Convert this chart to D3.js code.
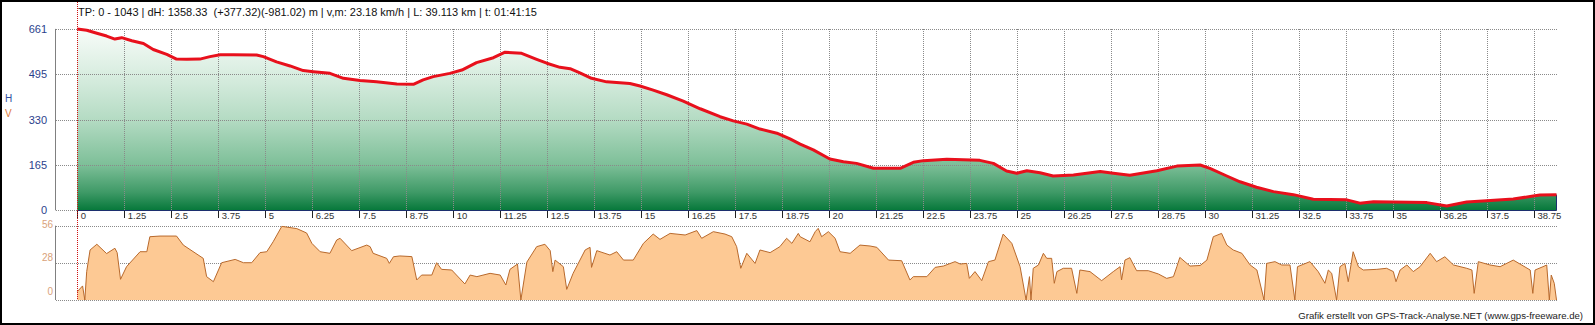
<!DOCTYPE html>
<html><head><meta charset="utf-8">
<script src="https://cdn.jsdelivr.net/npm/d3@7/dist/d3.min.js"></script>
<style>html,body{margin:0;padding:0;background:#fff;}svg{display:block;font-family:"Liberation Sans",Arial,sans-serif;}</style>
</head><body>
<svg id="c" width="1595" height="325"></svg>
<script>
const titleText = "TP: 0 - 1043 | dH: 1358.33\u00a0\u00a0(+377.32)(-981.02) m | v,m: 23.18 km/h | L: 39.113 km | t: 01:41:15";
const creditText = "Grafik erstellt von GPS-Track-Analyse.NET (www.gps-freeware.de)";
const xTicks = [0,1.25,2.5,3.75,5,6.25,7.5,8.75,10,11.25,12.5,13.75,15,16.25,17.5,18.75,20,21.25,22.5,23.75,25,26.25,27.5,28.75,30,31.25,32.5,33.75,35,36.25,37.5,38.75];
const xTickLabels = xTicks.map(String);
const elevTicks = [0,165,330,495,661];
const speedTicks = [0,28,56];
const xMax = 39.35;

const elevKm = [0,0.25,0.52,0.78,1.0,1.18,1.45,1.76,2.02,2.38,2.64,2.91,3.26,3.53,3.80,4.15,4.77,4.95,5.30,5.66,6.01,6.28,6.72,7.08,7.52,7.96,8.50,8.94,9.2,9.47,9.91,10.23,10.62,11.07,11.38,11.82,12.22,12.49,12.84,13.11,13.37,13.68,14.08,14.70,14.97,15.32,15.68,16.12,16.57,17.10,17.45,17.81,18.16,18.61,18.96,19.23,19.58,20.02,20.38,20.73,21.18,21.89,22.24,22.51,23.13,24.01,24.37,24.72,24.99,25.26,25.61,25.96,26.50,27.21,27.56,28.00,28.72,29.25,29.87,30.13,30.58,30.93,31.37,31.82,32.35,32.88,33.77,34.12,34.48,35.90,36.43,36.96,37.49,38.20,38.73,38.91,39.35];
const elevM = [661,656,645,635,624,629,618,608,586,568,551,550,551,560,567,567,566,560,541,526,509,505,499,481,473,468,460,459,475,487,499,511,538,556,576,572,550,536,521,516,501,481,468,462,453,438,421,398,370,341,326,314,296,281,260,241,220,187,177,171,153,153,175,181,186,182,171,143,135,144,137,125,129,141,135,128,144,161,165,153,125,104,84,68,57,40,38,26,31,28,16,30,35,41,52,56,57];

const speedKm = [0,0.14,0.20,0.25,0.34,0.52,0.78,1.00,1.06,1.15,1.31,1.67,1.85,1.93,2.20,2.64,2.82,3.35,3.44,3.62,3.84,4.20,4.42,4.64,4.86,5.04,5.21,5.44,5.84,6.10,6.24,6.46,6.72,6.90,6.99,7.30,7.70,7.79,7.87,8.23,8.30,8.41,8.58,8.90,9.03,9.16,9.43,9.56,9.69,9.96,10.31,10.45,10.63,10.98,11.25,11.40,11.51,11.71,11.80,11.96,12.22,12.44,12.58,12.65,12.71,12.93,13.02,13.19,13.51,13.64,13.68,13.82,14.17,14.35,14.53,14.79,15.06,15.32,15.50,15.77,16.17,16.48,16.61,16.92,17.23,17.41,17.54,17.65,17.81,18.03,18.16,18.43,18.69,18.87,19.01,19.18,19.23,19.49,19.63,19.71,19.80,19.98,20.16,20.29,20.56,20.82,21.09,21.27,21.58,21.93,22.15,22.24,22.60,22.82,23.04,23.35,23.49,23.66,23.73,23.88,24.06,24.24,24.41,24.63,24.86,25.08,25.24,25.33,25.37,25.43,25.57,25.70,25.79,25.92,25.99,26.06,26.23,26.45,26.59,26.67,26.94,27.25,27.56,27.74,27.78,27.87,28.00,28.18,28.49,28.76,28.98,29.16,29.25,29.33,29.60,29.87,30.05,30.22,30.44,30.58,30.75,30.98,31.20,31.38,31.57,31.64,31.86,32.04,32.26,32.39,32.46,32.79,33.01,33.19,33.28,33.37,33.50,33.59,33.72,33.81,33.94,34.08,34.21,34.57,34.83,35.01,35.08,35.19,35.37,35.54,35.72,35.99,36.16,36.38,36.61,36.96,37.10,37.16,37.27,37.58,37.85,38.20,38.38,38.65,38.72,38.78,38.99,39.09,39.16,39.21,39.29,39.35];
const speedKmh = [6.3,10.6,0,21.4,37.7,42,35,39,35.7,15.6,25.1,36.4,36.4,47.7,48.2,48.2,41.4,31.4,17.6,13.8,28.1,30.6,28.1,28.1,35.7,36.4,43.9,55.5,53.8,50.5,42.7,36.4,35.2,45.2,46.5,37.2,41.4,40.2,35.2,31.4,27.6,32.6,33.2,32.7,15.1,18.8,18.8,28.1,23.1,22.6,12.1,18.8,17.6,20.1,18.8,11.3,23.1,27.1,0,28.6,40.2,42,37.2,21.4,30.1,25.1,8,20.1,37.7,39.7,24.6,37.2,33.9,36.4,30.1,30.1,42.7,49.7,45.7,50.2,49,52.3,46.5,51.5,49.7,47.7,40.2,23.9,35.2,27.6,37.7,35.7,40.2,46.5,42.7,50.2,47.7,43.9,51.5,54,47.7,51.5,46.5,36.4,35.2,41.4,40.7,39.7,30.1,29.6,15.1,17.6,17.6,24.6,25.6,28.9,27.1,27.6,16.3,21.4,14.6,28.9,30.1,49.7,42.7,25.1,0,17.6,0,23.9,26.4,35.2,31.4,31.4,12.6,21.4,23.9,23.9,5,22.6,21.4,14.6,21.4,25.1,15.1,30.1,31.9,22.1,22.1,19.6,16.3,17.6,25.1,32.1,25.6,26,30.1,47.7,50.2,41.4,37.7,35.2,26.4,22.6,0,27.6,28.9,26.4,26.4,0,25.1,28.9,21.4,12.6,22.6,20.1,0,25.1,27.6,13.8,36.4,25.1,22.6,23.1,23.9,21.4,13.8,22.6,26.4,21.4,25.1,35.2,28.9,32.6,26.4,23.9,22.6,5,28.9,26.4,25.1,30.1,27.1,22.6,5,22.6,25.1,26.4,0,18.8,12.6,0];

const svg = d3.select("#c");
const x = d3.scaleLinear().domain([0, xMax]).range([77.3, 1556.5]);
const yE = d3.scaleLinear().domain([0, 661]).range([210.3, 28.9]);
const yS = d3.scaleLinear().domain([0, 56]).range([300, 225.7]);
const axisX = 55.5;

// frame
svg.append("rect").attr("x",1).attr("y",1).attr("width",1593).attr("height",323)
  .attr("fill","#fff").attr("stroke","#000").attr("stroke-width",2);

// gradient
const defs = svg.append("defs");
const g = defs.append("linearGradient").attr("id","eg").attr("gradientUnits","userSpaceOnUse")
  .attr("x1",0).attr("x2",0).attr("y1",yE(661)).attr("y2",yE(0));
[[0,"#f8fcf9"],[0.3,"#d2eadb"],[0.5,"#b4dbc3"],[0.75,"#7dbf98"],[0.9,"#3f9a67"],[1,"#06783a"]]
  .forEach(([o,c])=>g.append("stop").attr("offset",o).attr("stop-color",c));

const elev = elevKm.map((k,i)=>({k, v:elevM[i]}));
const spd = speedKm.map((k,i)=>({k, v:speedKmh[i]}));

// elevation area
svg.append("path").datum(elev)
  .attr("d", d3.area().x(d=>x(d.k)).y0(yE(0)).y1(d=>yE(d.v)))
  .attr("fill","url(#eg)");
// navy right edge of area
svg.append("line").attr("x1",x(xMax)).attr("x2",x(xMax)).attr("y1",yE(elevM[elevM.length-1])).attr("y2",yE(0))
  .attr("stroke","#1c2f6e").attr("stroke-width",1);

// elevation grid
const gridStyle = s => s.attr("stroke","#8a8a8a").attr("stroke-width",1).attr("stroke-dasharray","1,1").attr("shape-rendering","crispEdges");
svg.append("g").selectAll("line").data(elevTicks).join("line")
  .attr("x1",axisX).attr("x2",x(xMax)).attr("y1",d=>Math.round(yE(d))+0.5).attr("y2",d=>Math.round(yE(d))+0.5).call(gridStyle);
svg.append("g").selectAll("line").data(xTicks.slice(1)).join("line")
  .attr("x1",d=>Math.round(x(d))+0.5).attr("x2",d=>Math.round(x(d))+0.5).attr("y1",yE(661)).attr("y2",yE(0)).call(gridStyle);

// speed grid
svg.append("g").selectAll("line").data(speedTicks).join("line")
  .attr("x1",axisX).attr("x2",x(xMax)).attr("y1",d=>Math.round(yS(d))+0.5).attr("y2",d=>Math.round(yS(d))+0.5).call(gridStyle);

// speed area
svg.append("path").datum(spd)
  .attr("d", d3.area().x(d=>x(d.k)).y0(yS(0)).y1(d=>yS(d.v)))
  .attr("fill","#fdc994");
svg.append("path").datum(spd)
  .attr("d", d3.line().x(d=>x(d.k)).y(d=>yS(d.v)))
  .attr("fill","none").attr("stroke","#b8692c").attr("stroke-width",1);

// y axis lines
svg.append("line").attr("x1",axisX).attr("x2",axisX).attr("y1",yE(661)).attr("y2",yE(0)).attr("stroke","#808080");
svg.append("line").attr("x1",axisX).attr("x2",axisX).attr("y1",yS(56)).attr("y2",yS(0)).attr("stroke","#808080");

// x axis (navy baseline)
svg.append("line").attr("x1",x(0)).attr("x2",x(xMax)).attr("y1",210.5).attr("y2",210.5).attr("stroke","#1c2f6e").attr("stroke-width",1);
const xa = svg.append("g").attr("transform","translate(0,211)")
  .call(d3.axisBottom(x).tickValues(xTicks).tickFormat((d,i)=>xTickLabels[i]).tickSize(7).tickSizeOuter(0));
xa.select(".domain").remove();
xa.selectAll(".tick line").attr("stroke","#222").attr("shape-rendering","crispEdges");
xa.selectAll(".tick text").attr("text-anchor","start").attr("x",3).attr("y",1).attr("dy","0.71em")
  .attr("fill","#333").style("font-size","9.5px").style("font-family","'Liberation Sans',Arial,sans-serif");

// elevation line
svg.append("path").datum(elev)
  .attr("d", d3.line().x(d=>x(d.k)).y(d=>yE(d.v)))
  .attr("fill","none").attr("stroke","#e8101c").attr("stroke-width",3).attr("stroke-linejoin","round");

// red start marker
svg.append("line").attr("x1",77.5).attr("x2",77.5).attr("y1",2).attr("y2",300)
  .attr("stroke","#d01010").attr("stroke-dasharray","1,1").attr("stroke-width",1);

// elevation y labels
svg.append("g").selectAll("text").data(elevTicks).join("text")
  .attr("x",47).attr("y",d=>yE(d)).attr("dy","0.35em").attr("text-anchor","end")
  .attr("fill","#2b3f8c").style("font-size","11px").text(d=>d);
// speed labels (positions as in reference)
const speedLabelY = {56:224.5, 28:257, 0:291};
svg.append("g").selectAll("text").data(speedTicks).join("text")
  .attr("x",53).attr("y",d=>speedLabelY[d]).attr("dy","0.35em").attr("text-anchor","end")
  .attr("fill","#d9a27a").style("font-size","10px").text(d=>d);

// H / V
svg.append("text").attr("x",5).attr("y",102).attr("fill","#2f4fa0").style("font-size","10px").text("H");
svg.append("text").attr("x",5).attr("y",117).attr("fill","#e07a3a").style("font-size","10px").text("V");

// title
svg.append("text").attr("x",78).attr("y",16).attr("fill","#111").style("font-size","11px").text(titleText);
// credit
svg.append("text").attr("x",1583).attr("y",319).attr("text-anchor","end").attr("fill","#222").style("font-size","9.6px").text(creditText);
</script>
</body></html>
